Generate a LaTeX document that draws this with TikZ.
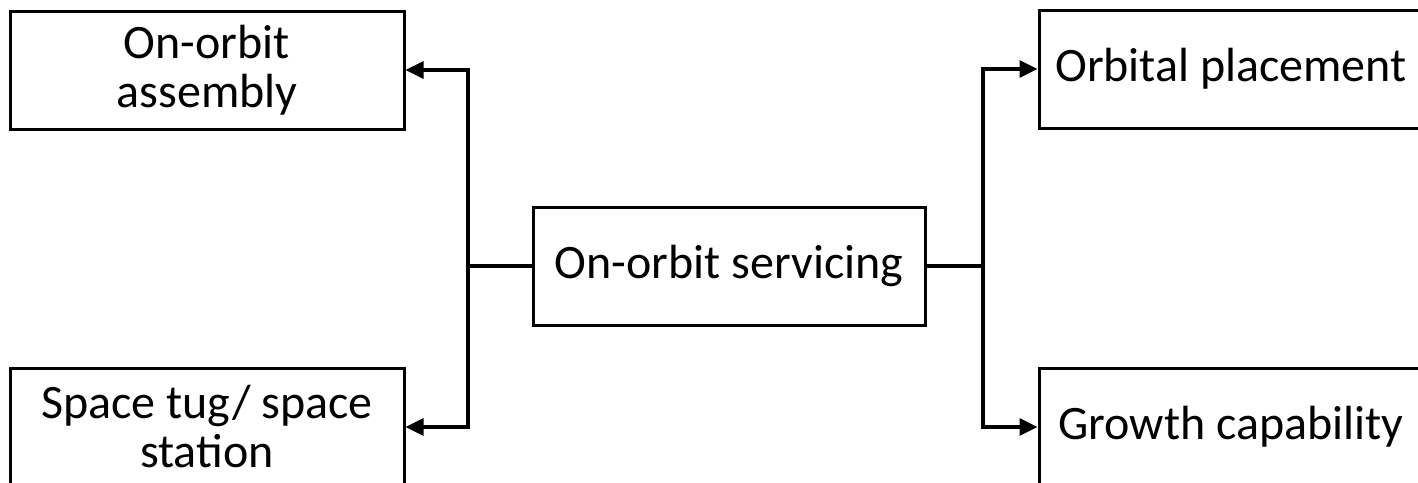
\documentclass[tikz,border=0pt]{standalone}
\usepackage{fontspec}
\setmainfont{Carlito}
\usetikzlibrary{arrows.meta}
\begin{document}
\begin{tikzpicture}[x=0.5pt,y=-0.5pt,
  box/.style={draw=black,line width=1.5pt,rectangle,inner sep=0pt,
    minimum width=197pt,minimum height=59pt,align=center,
    font=\fontsize{24pt}{24.5pt}\selectfont},
  link/.style={draw=black,line width=1.6pt},
  tip/.style={link,-{Triangle[length=9pt,width=8.5pt]}}]
\useasboundingbox (0,0) rectangle (1418,482);
% outer boxes
\node[box] (asm) at (207,70) {On-orbit\\assembly};
\node[box] (tug) at (207,427) {Space tug/ space\\station};
\node[box,minimum width=196pt] (srv) at (729,266) {On-orbit servicing};
\node[box] (plc) at (1236,69) {\hspace*{-5pt}Orbital placement};
\node[box] (grw) at (1236,427) {\hspace*{-5pt}Growth capability};
% branching points
\coordinate (lj) at (468,266);
\coordinate (rj) at (983,266);
\draw[link] (srv.west) -- (lj);
\draw[link] (srv.east) -- (rj);
\draw[tip] (lj) |- (asm.east);
\draw[tip] (lj) |- (tug.east);
\draw[tip] (rj) |- (plc.west);
\draw[tip] (rj) |- (grw.west);
\end{tikzpicture}
\end{document}
